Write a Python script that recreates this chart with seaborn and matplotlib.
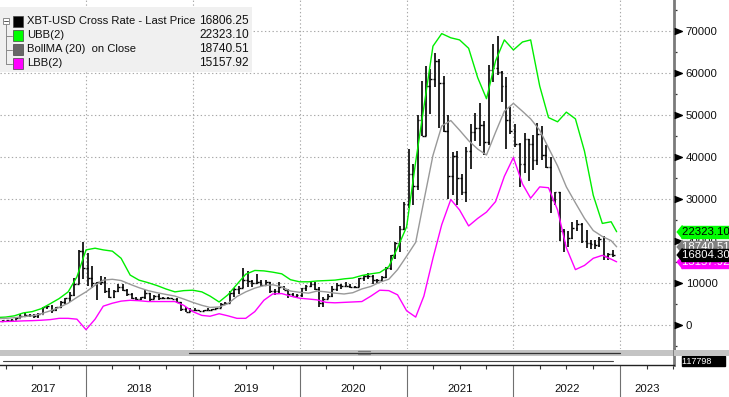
import numpy as np
import pandas as pd
import matplotlib
matplotlib.use("Agg")
import matplotlib.pyplot as plt
import matplotlib.dates as mdates
import matplotlib.transforms as mtrans
from matplotlib.patches import Rectangle
from matplotlib.lines import Line2D
from matplotlib.ticker import MultipleLocator
import seaborn as sns

# ---------------- data ----------------
bar_first_period = "2017-03-15"          # semi-monthly OHLC bars
bar_first_open = 1150
bar_high = [1400, 1300, 1450, 1900, 2750, 2980, 2800, 2650, 2900, 4500, 4750, 4950, 4400, 5850, 6450, 7900, 11400, 17900, 19800,
            17200, 14100, 10300, 11700, 11500, 9000, 8400, 9800, 9900, 8700, 7750, 6800, 6800, 8500, 7800, 7200, 7400, 6800, 6700, 6600, 6500, 5600, 4300, 4200,
            4100, 3700, 3700, 4200, 4000, 4150, 5400, 5600, 8300, 8900, 9300, 13800, 13000, 10900, 12300, 10900, 10900, 10300, 8700, 10300, 9500, 8600, 7800, 7500,
            9000, 9600, 10500, 10400, 9200, 6900, 7500, 9400, 10000, 9900, 10400, 9800, 9400, 11400, 12100, 12400, 12000, 11100, 11700, 14000, 16800, 19800, 23800, 29300,
            42000, 38500, 50000, 58300, 61700, 61000, 64800, 63500, 59500, 50000, 41300, 41500, 36000, 42600, 48000, 50500, 52900, 48800, 62000, 67000, 69000, 60600, 59100, 52100,
            47900, 43500, 45800, 44500, 45400, 48100, 47400, 42900, 40000, 31900, 31900, 23000, 22400, 24600, 25200, 24400, 22700, 20400, 20400, 21000, 21400, 17200, 18000]
bar_low = [1000, 1100, 1200, 1400, 1700, 2200, 2100, 1850, 1850, 2650, 3950, 2950, 3500, 4150, 5100, 5500, 7100, 9800, 11000,
           9400, 9000, 6000, 9700, 7800, 6600, 6450, 7900, 8100, 7100, 6400, 5750, 6100, 6400, 5900, 6200, 6100, 6200, 6300, 6200, 5300, 3500, 3200, 3200,
           3500, 3400, 3350, 3600, 3700, 3900, 4100, 4950, 5300, 6800, 7500, 8900, 9100, 9100, 9900, 9500, 9600, 7800, 7300, 7400, 8400, 6500, 7000, 6500,
           6900, 8200, 9200, 8500, 4400, 4500, 6200, 6800, 8300, 8600, 9300, 8900, 8900, 9050, 10700, 11100, 9900, 10200, 10400, 11300, 13200, 15900, 17600, 22700,
           28000, 28800, 32300, 45000, 45000, 50400, 56900, 47000, 46000, 30000, 31000, 28800, 31000, 29300, 37300, 43900, 42800, 40600, 43000, 58000, 59700, 53300, 42000, 45600,
           42600, 32900, 36300, 34300, 37100, 38100, 39300, 37600, 26700, 28600, 20000, 17600, 18800, 20700, 22600, 19600, 18500, 18200, 18200, 18700, 15600, 15500, 16300]
bar_close = [1250, 1250, 1400, 1800, 2300, 2500, 2480, 2200, 2750, 4300, 4700, 3700, 4350, 5700, 6450, 7300, 9900, 17700, 13800,
             11400, 10200, 10300, 10300, 8200, 6900, 8300, 9250, 8500, 7500, 6500, 6400, 6700, 7700, 6300, 7000, 6500, 6600, 6500, 6300, 5500, 4000, 3300, 3700,
             3600, 3450, 3600, 3800, 3950, 4100, 5200, 5300, 7800, 8600, 9000, 10800, 10600, 10100, 10300, 9600, 10300, 8300, 8300, 9200, 8500, 7600, 7100, 7200,
             8900, 9350, 9900, 8600, 5400, 6400, 7100, 8600, 9700, 9450, 9450, 9100, 9200, 11300, 11900, 11700, 10900, 10800, 11500, 13800, 16700, 19700, 23000, 29000,
             36000, 33100, 49000, 45200, 57000, 58800, 63000, 57700, 46400, 35600, 40400, 35000, 31800, 41500, 46000, 47100, 47800, 43800, 60900, 61300, 60400, 57000, 48900, 46300,
             43100, 38500, 44500, 43200, 39300, 45500, 40500, 37700, 29800, 31800, 22600, 19900, 20800, 23300, 24200, 20000, 19700, 19400, 19200, 20500, 16600, 17100, 16800]

band_first_month = "2017-03-01"          # monthly band readings + final point
band_last_date = "2022-12-20"
upper_band = [1900, 2000, 2300, 3000, 3300, 4000, 5200, 6400, 8000, 11600,
              18000, 18400, 18000, 17700, 16000, 12000, 10800, 10200, 9500, 8700, 8000, 8300,
              8400, 8000, 7000, 5600, 7300, 9800, 12200, 13100, 13000, 12700, 12300, 10900,
              10400, 10400, 10600, 10700, 10800, 11100, 11300, 11900, 12300, 12600, 14000, 18500,
              23500, 39000, 52000, 66500, 69500, 68500, 68000, 66000, 59000, 54000, 63000, 68000,
              65600, 67500, 68000, 57000, 49500, 48500, 50800, 49200, 41500, 31000, 24300, 24700,
              22323.10]
mid_band = [1600, 1700, 1850, 2100, 2300, 2800, 3500, 4300, 5300, 6700,
            8000, 9600, 10800, 11000, 10700, 9800, 9000, 8300, 7800, 7400, 7000, 6300,
            5500, 4800, 4300, 4400, 5200, 6900, 8000, 8900, 9500, 9700, 9200, 8200,
            7900, 7700, 8200, 8000, 7700, 7500, 7800, 8700, 9300, 10300, 11000, 13300,
            16500, 19800, 29700, 40500, 47500, 48800, 46500, 44000, 42000, 40600, 46000, 51000,
            52900, 51000, 49200, 46500, 42300, 38000, 33000, 29200, 25500, 22600, 21200, 20200,
            18740.51]
lower_band = [900, 950, 1000, 1100, 1150, 1250, 1400, 1700, 1700, 1500,
              -1000, 1500, 4600, 5300, 5800, 6000, 5900, 5700, 5700, 5700, 5700, 4800,
              3300, 2400, 2200, 2800, 2300, 1700, 1700, 3300, 6000, 7500, 7600, 7000,
              6500, 6300, 6100, 5500, 5400, 5500, 5600, 5700, 7000, 8400, 8300, 7300,
              3500, 2000, 7000, 16000, 24000, 30000, 27500, 23700, 25500, 27000, 29500, 35500,
              40000, 33700, 30300, 33000, 32800, 27500, 18500, 13300, 14300, 16000, 16700, 15800,
              15157.92]

legend_names = ["XBT-USD Cross Rate - Last Price", "UBB(2)", "BollMA (20)  on Close", "LBB(2)"]
legend_values = ["16806.25", "22323.10", "18740.51", "15157.92"]
series_colors = ["#000000", "#00ff00", "#666666", "#ff00ff"]
tag_values = [22323.10, 18740.51, 16804.30, 15157.92]     # UBB, MA, last price, LBB
lower_panel_tag = "117798"
y_ticks = [0, 10000, 20000, 30000, 40000, 50000, 60000, 70000]
year_labels = ["2017", "2018", "2019", "2020", "2021", "2022", "2023"]

# ---------------- build tables ----------------
n_bars = min(len(bar_high), len(bar_low), len(bar_close))
bar_dates = pd.date_range(bar_first_period, periods=n_bars, freq="SMS") + pd.Timedelta(days=7)
bar_high = np.array(bar_high[:n_bars], float)
bar_low = np.array(bar_low[:n_bars], float)
bar_close = np.array(bar_close[:n_bars], float)
bar_open = np.concatenate([[bar_first_open], bar_close[:-1]])

n_band = min(len(upper_band), len(mid_band), len(lower_band))
band_dates = list(pd.date_range(band_first_month, periods=n_band - 1, freq="MS")) + [pd.Timestamp(band_last_date)]
bands = pd.concat([
    pd.DataFrame({"date": band_dates, "value": upper_band[:n_band], "series": "UBB"}),
    pd.DataFrame({"date": band_dates, "value": mid_band[:n_band], "series": "MA"}),
    pd.DataFrame({"date": band_dates, "value": lower_band[:n_band], "series": "LBB"}),
])

# ---------------- figure ----------------
sns.set_theme(style="white")
plt.rcParams["font.family"] = ["Liberation Sans", "DejaVu Sans"]

W, H = 729, 397
fig = plt.figure(figsize=(W / 100, H / 100), dpi=100)
fig.patch.set_facecolor("white")

def fx(x):
    return x / W

def fy(y):
    return 1 - y / H

ax = fig.add_axes([0, fy(349), fx(674), 349 / H])
ax2 = fig.add_axes([0, fy(364.5), fx(674), 15.5 / H], sharex=ax)

x0 = pd.Timestamp("2017-03-13")
x1 = pd.Timestamp("2023-07-04")
ax.set_xlim(x0, x1)
ax.set_ylim(-5600, 77500)

# bands (seaborn)
sns.lineplot(data=bands, x="date", y="value", hue="series",
             palette={"UBB": "#00ee00", "MA": "#999999", "LBB": "#ff00ff"},
             legend=False, ax=ax, lw=1.0, zorder=3)

# OHLC bars
tick = pd.Timedelta(days=6)
ax.vlines(bar_dates, bar_low, bar_high, color="black", lw=1.2, zorder=2)
ax.hlines(bar_open, bar_dates - tick, bar_dates, color="black", lw=1.0, zorder=2)
ax.hlines(bar_close, bar_dates, bar_dates + tick, color="black", lw=1.0, zorder=2)

# grid
grid_kw = dict(color="#a8a8a8", lw=0.8, ls=(0, (1.2, 2.2)))
for v in y_ticks:
    ax.axhline(v, zorder=0, **grid_kw)
for yr in year_labels[1:]:
    ax.axvline(pd.Timestamp(f"{yr}-01-01"), zorder=0, **grid_kw)

# spines / ticks
for s in ["top", "left", "bottom"]:
    ax.spines[s].set_visible(False)
ax.spines["right"].set_color("#7a7a7a")
ax.spines["right"].set_linewidth(2.0)
ax.set_xlabel("")
ax.set_ylabel("")
ax.tick_params(axis="x", which="both", bottom=False, labelbottom=False)
ax.yaxis.tick_right()
ax.set_yticks(y_ticks)
ax.set_yticklabels([str(v) for v in y_ticks])
ax.yaxis.set_minor_locator(MultipleLocator(5000))
ax.tick_params(axis="y", which="both", right=True, left=False)
ax.tick_params(axis="y", which="major", length=0, pad=8.5, labelsize=8.2, labelcolor="#111111")
ax.tick_params(axis="y", which="minor", length=2.5, width=0.9, color="#333333", direction="out")
ytrans = mtrans.blended_transform_factory(ax.transAxes, ax.transData)
tri_t = mtrans.offset_copy(ytrans, fig=fig, x=4, y=0, units="dots")
ax.plot([1.0] * len(y_ticks), y_ticks, ls="none",
        marker=[(-0.5, 0.4), (0.5, 0.0), (-0.5, -0.4)], ms=5.5, color="black",
        transform=tri_t, clip_on=False, zorder=6)

# last-value tags on the right axis
tag_specs = [
    (tag_values[1], "#808080", "white", 10),
    (tag_values[3], "#ff00ff", "white", 11),
    (tag_values[0], "#00ff00", "black", 12),
    (tag_values[2], "#000000", "white", 13),
]
arrow_t = mtrans.offset_copy(ytrans, fig=fig, x=4.7, y=0, units="dots")
text_t = mtrans.offset_copy(ytrans, fig=fig, x=8.5, y=0, units="dots")
for val, face, tcol, z in tag_specs:
    ax.plot([1.0], [val], ls="none", marker=[(-0.2, 0), (0.2, 0.5), (0.2, -0.5)],
            ms=9.6, color=face, mec=face, transform=arrow_t, clip_on=False, zorder=z)
    ax.text(1.0, val, f"{val:.2f}   ", transform=text_t, ha="left", va="center",
            fontsize=8.2, color=tcol, zorder=z, clip_on=False,
            bbox=dict(boxstyle="square,pad=0.08", fc=face, ec=face))

# ---------------- lower strip + time axis ----------------
ax2.set_ylim(0, 1)
ax2.axhspan(0.55, 0.95, color="#c4c4c4", lw=0)
ax2.axhline(0.75, xmin=0.28, xmax=0.92, color="#333333", lw=0.9)
# small "=" drag handle in the middle of the collapsed panel bar
for hy in (0.66, 0.84):
    ax2.axhline(hy, xmin=0.531, xmax=0.549, color="#7a7a7a", lw=0.9, zorder=4)
ax2.plot(bar_dates, np.full(n_bars, 0.25), color="#444444", lw=0.8)
for s in ["top", "left"]:
    ax2.spines[s].set_visible(False)
ax2.spines["right"].set_color("#7a7a7a")
ax2.spines["right"].set_linewidth(2.0)
ax2.spines["bottom"].set_color("#222222")
ax2.spines["bottom"].set_linewidth(1.0)
ax2.set_yticks([])
ax2.set_xlabel("")
ax2.set_ylabel("")
ax2.xaxis.set_major_locator(mdates.YearLocator())
ax2.xaxis.set_minor_locator(mdates.MonthLocator(bymonth=[4, 7, 10]))
ax2.tick_params(axis="x", which="both", bottom=True, top=False)
ax2.tick_params(axis="x", which="major", length=24, width=0.8, color="#707070",
                direction="out", labelbottom=False)
ax2.tick_params(axis="x", which="minor", length=3.2, width=0.8, color="#333333", direction="out")
ax2.set_xlim(x0, x1)
# tag of the collapsed lower panel
sub_t = mtrans.offset_copy(mtrans.blended_transform_factory(ax2.transAxes, ax2.transAxes),
                           fig=fig, x=8.5, y=0, units="dots")
ax2.text(1.0, 0.22, lower_panel_tag + "     ", transform=sub_t, ha="left", va="center",
         fontsize=6.5, color="white", clip_on=False, zorder=9,
         bbox=dict(boxstyle="square,pad=0.05", fc="black", ec="black"))
ax2.add_patch(Rectangle((1.0, 0.55), 0.09, 0.4, transform=ax2.transAxes, fc="#c4c4c4",
                        ec="none", clip_on=False, zorder=10))

lab_t = mtrans.offset_copy(mtrans.blended_transform_factory(ax2.transData, ax2.transAxes),
                           fig=fig, x=0, y=-24, units="dots")
for yr in year_labels:
    a = max(pd.Timestamp(f"{yr}-01-01"), x0)
    b = min(pd.Timestamp(f"{int(yr) + 1}-01-01"), x1)
    mid = a + (b - a) / 2
    ax2.text(mid, 0, yr, transform=lab_t, ha="center", va="center", fontsize=8.2, color="#111111")

# ---------------- legend block (top-left) ----------------
fig.add_artist(Rectangle((fx(0), fy(72)), fx(252), 65 / H, transform=fig.transFigure,
                         fc="#f0f0f0", ec="none", zorder=5))
rows_y = [21.5, 35.5, 49.5, 63.5]
fig.add_artist(Line2D([fx(6), fx(6)], [fy(24), fy(rows_y[-1])], transform=fig.transFigure,
                      color="#8a8a8a", lw=0.7, zorder=6))
fig.add_artist(Rectangle((fx(3), fy(24)), fx(6), 6 / H, transform=fig.transFigure,
                         fc="white", ec="#8a8a8a", lw=0.7, zorder=7))
fig.add_artist(Line2D([fx(4.3), fx(7.7)], [fy(21), fy(21)], transform=fig.transFigure,
                      color="#555555", lw=0.7, zorder=8))
for i, (name, val, col) in enumerate(zip(legend_names, legend_values, series_colors)):
    yc = rows_y[i]
    if i > 0:
        fig.add_artist(Line2D([fx(6), fx(12)], [fy(yc), fy(yc)], transform=fig.transFigure,
                              color="#8a8a8a", lw=0.7, zorder=6))
    fig.add_artist(Rectangle((fx(13), fy(yc + 5)), fx(10), 10 / H, transform=fig.transFigure,
                             fc=col, ec="#444444", lw=0.5, zorder=7))
    fig.text(fx(27), fy(yc), name, ha="left", va="center", fontsize=8.1, color="#111111", zorder=8)
    fig.text(fx(249), fy(yc), val, ha="right", va="center", fontsize=8.6, color="#111111", zorder=8)

fig.savefig("out.png", dpi=100, facecolor="white")
